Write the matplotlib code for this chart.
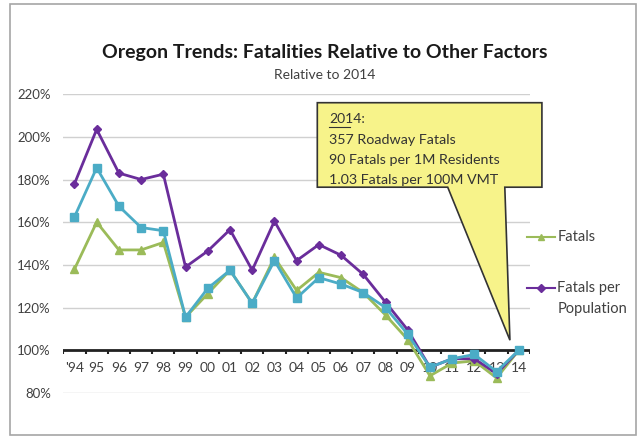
import matplotlib.pyplot as plt
from matplotlib.patches import Polygon, Rectangle
from matplotlib.lines import Line2D
from matplotlib.ticker import FixedLocator, FuncFormatter

plt.rcParams['font.family'] = ['Lato', 'DejaVu Sans']

years = ["'94", '95', '96', '97', '98', '99', '00', '01', '02', '03', '04',
         '05', '06', '07', '08', '09', '10', '11', '12', '13', '14']

# percent of 2014 value
fatals = [138, 160, 147, 147, 150.5, 115.5, 126.5, 137.5, 122, 143.5, 128,
          136.5, 134, 127, 116.5, 105, 88, 94, 95, 87, 100]
fatals_per_pop = [178, 203.5, 183, 180, 182.5, 139, 146.5, 156.5, 137.5, 160.5, 142,
                  149.5, 144.5, 135.5, 122.5, 109.5, 92, 96, 96, 89, 100]
fatals_per_vmt = [162.5, 185.5, 167.5, 157.5, 156, 115.5, 129, 137.5, 122, 142, 124.5,
                  134, 131, 127, 120, 107.5, 92, 96, 98, 90, 100]

green = '#9BBB59'
purple = '#6A2D9B'
cyan = '#4BACC6'

fig = plt.figure(figsize=(6.4, 4.38), dpi=100)
fig.patches.append(Rectangle((0.015, 0.007), 0.978, 0.984, transform=fig.transFigure,
                             fill=False, edgecolor='#A6A6A6', linewidth=1.2))

ax = fig.add_axes([0.099, 0.103, 0.729, 0.682])
x = list(range(len(years)))

ax.plot(x, fatals, color=green, lw=2, marker='^', ms=6, zorder=3)
ax.plot(x, fatals_per_pop, color=purple, lw=2, marker='D', ms=4.5, zorder=4)
ax.plot(x, fatals_per_vmt, color=cyan, lw=2, marker='s', ms=6, zorder=5)

ax.set_xlim(-0.5, 20.5)
ax.set_ylim(80, 220)
ax.yaxis.set_major_locator(FixedLocator(range(80, 221, 20)))
ax.yaxis.set_major_formatter(FuncFormatter(lambda v, p: '%d%%' % v))
ax.grid(axis='y', color='#D0D0D0', lw=1)
ax.set_axisbelow(True)
for s in ['top', 'right', 'left', 'bottom']:
    ax.spines[s].set_visible(False)
ax.axhline(100, color='#222222', lw=2, zorder=2)
ax.tick_params(axis='y', length=0, labelsize=9.5, labelcolor='#404040', pad=9)
ax.set_xticks(x)
ax.set_xticklabels([])
ax.tick_params(axis='x', length=0)
# category ticks sit on the 100% line between categories
for b in range(len(years) + 1):
    ax.plot([b - 0.5, b - 0.5], [100, 98.0], color='#222222', lw=1.5, zorder=2,
            solid_capstyle='butt')
for i, lab in enumerate(years):
    ax.text(i, 91.5, lab, ha='center', va='center', fontsize=10, color='#404040',
            zorder=1)

# callout box with pointer to 2014
box = Polygon([(10.93, 216), (21.04, 216), (21.04, 176.4), (19.37, 176.4),
               (19.6, 104.7), (16.8, 176.4), (10.93, 176.4)],
              closed=True, facecolor='#F7F38A', edgecolor='#333333', lw=1.2,
              zorder=6, clip_on=False)
ax.add_patch(box)
ax.text(11.45, 208.5, '2014:', fontsize=10, color='#333333', va='center', zorder=7)
ax.plot([11.45, 12.4], [204.6, 204.6], color='#333333', lw=0.8, zorder=7)
info = ['357 Roadway Fatals', '90 Fatals per 1M Residents', '1.03 Fatals per 100M VMT']
for k, line in enumerate(info):
    ax.text(11.45, 198.6 - k * 9.4, line, fontsize=10.3, color='#333333',
            va='center', zorder=7)

# legend
fig.add_artist(Line2D([0.824, 0.867], [0.459, 0.459], color=green, lw=1.5,
                      transform=fig.transFigure))
fig.add_artist(Line2D([0.824, 0.867], [0.342, 0.342], color=purple, lw=1.5,
                      transform=fig.transFigure))
fig.add_artist(Line2D([0.8455], [0.459], color=green, marker='^', ms=5, transform=fig.transFigure))
fig.add_artist(Line2D([0.8455], [0.342], color=purple, marker='D', ms=4, transform=fig.transFigure))
fig.text(0.871, 0.459, 'Fatals', fontsize=10.5, color='#404040', va='center')
fig.text(0.871, 0.342, 'Fatals per', fontsize=10.5, color='#404040', va='center')
fig.text(0.871, 0.294, 'Population', fontsize=10.5, color='#404040', va='center')

fig.text(0.507, 0.881, 'Oregon Trends: Fatalities Relative to Other Factors',
         ha='center', va='center', fontsize=14, fontweight='bold', color='#1a1a1a')
fig.text(0.507, 0.829, 'Relative to 2014', ha='center', va='center', fontsize=10,
         color='#404040')

fig.savefig('out.png', dpi=100)
